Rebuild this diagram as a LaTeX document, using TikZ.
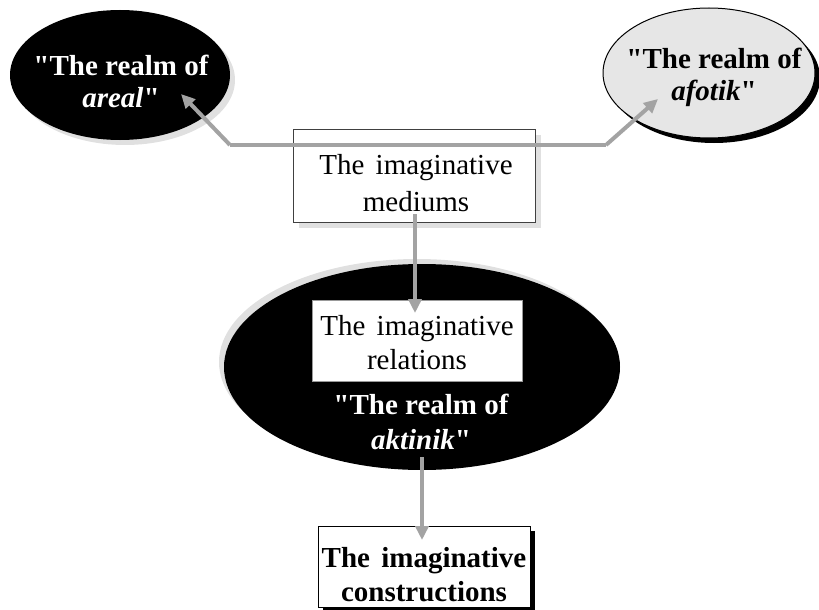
\documentclass[tikz,border=0pt]{standalone}
\usepackage{fontspec}
\setmainfont{Liberation Serif}
\usetikzlibrary{shapes.geometric,shadows,arrows.meta}
\definecolor{linkgrey}{HTML}{A3A3A3}
\definecolor{shadegrey}{HTML}{E0E0E0}
\definecolor{cloudgrey}{HTML}{E6E6E6}
\newcommand{\qq}{\textquotedbl}
\tikzset{
  realm/.style={ellipse, inner sep=0pt},
  realmtext/.style={align=center, inner sep=0pt, font=\bfseries\fontsize{29}{32}\selectfont},
  mediumbox/.style={rectangle, inner sep=0pt},
  mediumtext/.style={align=center, inner sep=0pt, font=\fontsize{29}{35}\selectfont},
  link/.style={draw=linkgrey, line width=4pt, -{Triangle[length=14pt,width=13pt]}},
}
\begin{document}
\begin{tikzpicture}[x=1pt,y=-1pt]
\useasboundingbox (0,0) rectangle (819,610);

% Drawing realm areal
\node (areal) [realm, fill=black, minimum width=220pt, minimum height=130pt,
  drop shadow={shadow xshift=5pt,shadow yshift=-5pt,fill=shadegrey,opacity=1}] at (120,75) {};
\node (areal-text) [realmtext, text=white] at (121,81) {\qq The realm of\\\textit{areal}\qq};

% Drawing realm afotik
\node (afotik) [realm, fill=cloudgrey, draw=black, line width=1pt, minimum width=212pt, minimum height=130pt,
  drop shadow={shadow xshift=5pt,shadow yshift=-5pt,fill=black,opacity=1}] at (709,73) {};
\node (afotik-text) [realmtext] at (714,77) {\qq The realm of\\\textit{afotik}\qq};

% Drawing box mediums
\node (mediums) [mediumbox, fill=white, draw=black!75, line width=0.8pt, minimum width=242pt, minimum height=93pt,
  drop shadow={shadow xshift=6pt,shadow yshift=-6pt,fill=shadegrey,opacity=1}] at (414,175.5) {};
\node (mediums-text) [mediumtext, font=\fontsize{29}{37}\selectfont] at (416,183) {The\hspace{4pt} imaginative\\mediums};

% Drawing links to the two outer realms
\coordinate (fork-left) at (230,145);
\coordinate (fork-right) at (606,145);
\coordinate (areal-tip) at (181,94);
\coordinate (afotik-tip) at (658,99);
\draw [link] (fork-left) -- (areal-tip);
\draw [link] (fork-right) -- (afotik-tip);
\draw [draw=linkgrey, line width=4pt] (fork-left) -- (fork-right);

% Drawing realm aktinik
\node (aktinik) [realm, fill=black, minimum width=396pt, minimum height=206pt,
  drop shadow={shadow xshift=-5pt,shadow yshift=5pt,fill=shadegrey,opacity=1}] at (422,367) {};
\node (aktinik-text) [realmtext, text=white, font=\bfseries\fontsize{29}{35}\selectfont] at (421,422) {\qq The realm of\\\textit{aktinik}\qq};

% Drawing box relations
\node (relations) [mediumbox, fill=white, draw=black!40, line width=0.6pt, minimum width=210pt, minimum height=81pt] at (417,340.5) {};
\node (relations-text) [mediumtext, font=\fontsize{29}{34}\selectfont] at (417,343) {The\hspace{4pt} imaginative\\relations};

% Drawing link mediums to relations
\coordinate (mediums-out) at (415,214);
\coordinate (relations-in) at (415,313);
\draw [link] (mediums-out) -- (relations-in);

% Drawing box constructions
\node (constructions) [mediumbox, fill=white, draw=black, line width=1pt, minimum width=212pt, minimum height=81pt,
  drop shadow={shadow xshift=5pt,shadow yshift=-5pt,fill=black,opacity=1}] at (424,566.5) {};
\node (constructions-text) [realmtext, font=\bfseries\fontsize{29}{34}\selectfont] at (424,575) {The\hspace{4pt} imaginative\\constructions};

% Drawing link aktinik to constructions
\coordinate (aktinik-out) at (422,457);
\coordinate (constructions-in) at (422,540);
\draw [link] (aktinik-out) -- (constructions-in);

\end{tikzpicture}
\end{document}
